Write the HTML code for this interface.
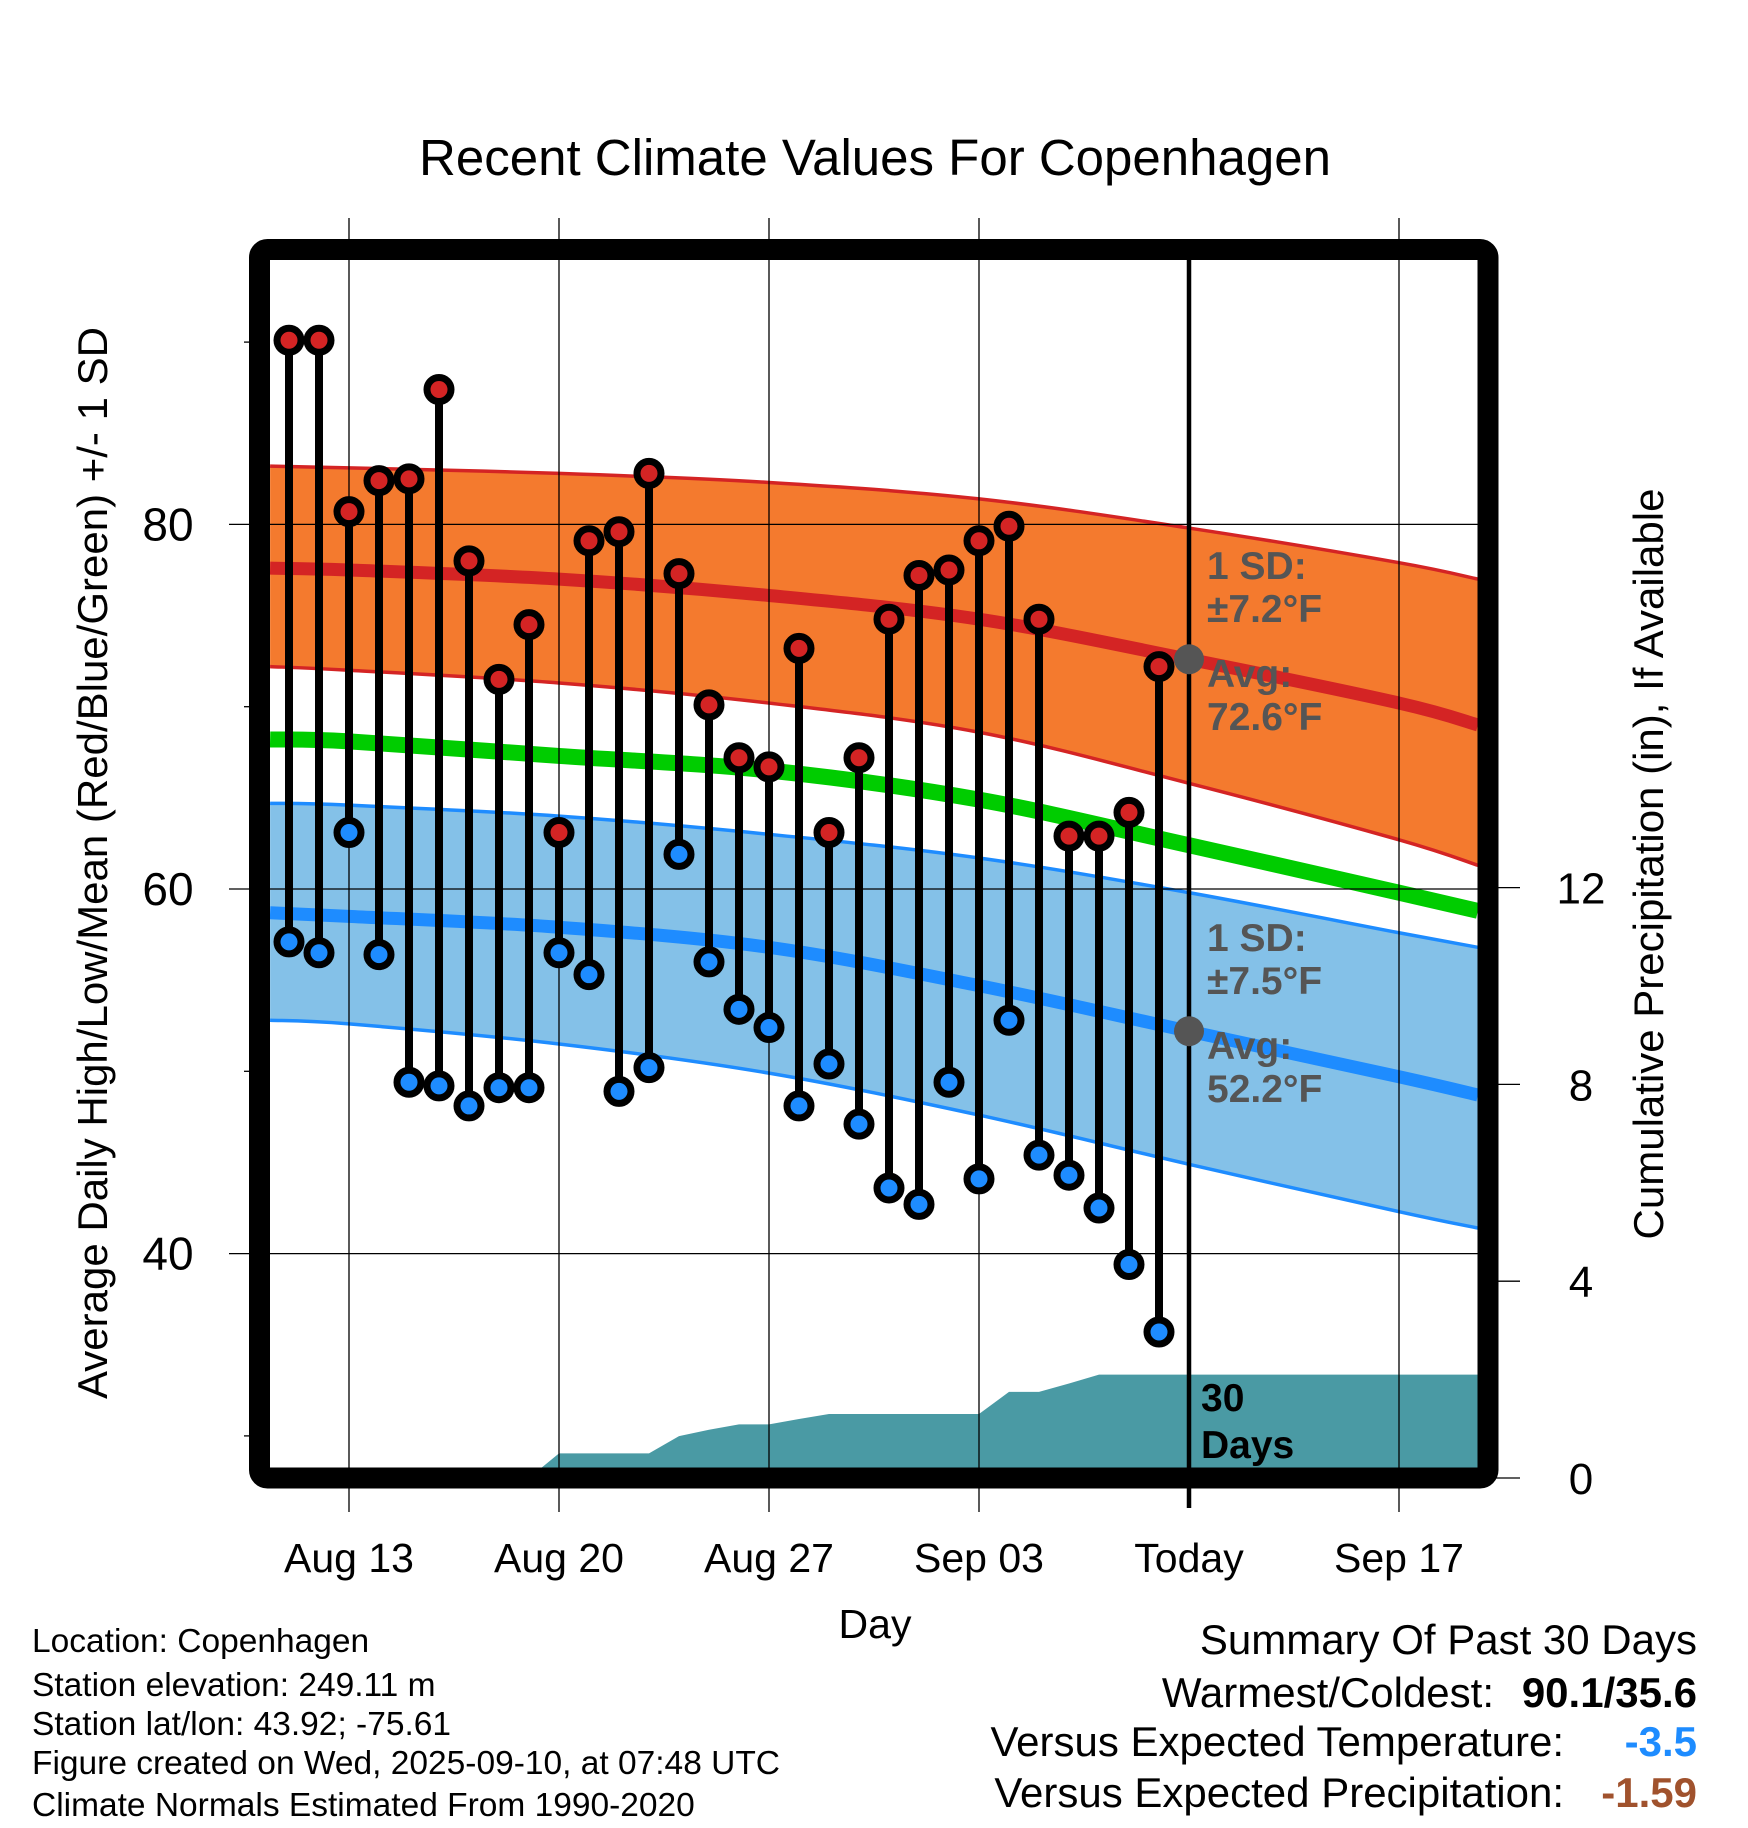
<!DOCTYPE html>
<html><head><meta charset="utf-8"><style>
html,body{margin:0;padding:0;background:#fff;}
svg{display:block;font-family:"Liberation Sans",Arial,sans-serif;}
</style></head><body>
<svg id="chart" width="1748" height="1828" viewBox="0 0 1748 1828">
</svg>
<script>
// ---- data ----
const days = ["Aug 11","Aug 12","Aug 13","Aug 14","Aug 15","Aug 16","Aug 17","Aug 18","Aug 19","Aug 20","Aug 21","Aug 22","Aug 23","Aug 24","Aug 25","Aug 26","Aug 27","Aug 28","Aug 29","Aug 30","Aug 31","Sep 01","Sep 02","Sep 03","Sep 04","Sep 05","Sep 06","Sep 07","Sep 08","Sep 09"];
const highs = [90.1,90.1,80.7,82.4,82.5,87.4,78.0,71.5,74.5,63.1,79.1,79.6,82.8,77.3,70.1,67.2,66.7,73.2,63.1,67.2,74.8,77.2,77.5,79.1,79.9,74.8,62.9,62.9,64.2,72.2];
const lows = [57.1,56.5,63.1,56.4,49.4,49.2,48.1,49.1,49.1,56.5,55.3,48.9,50.2,61.9,56.0,53.4,52.4,48.1,50.4,47.1,43.6,42.7,49.4,44.1,52.8,45.4,44.3,42.5,39.4,35.7];
const precip = [0,0,0,0,0,0,0,0,0,0.5,0.5,0.5,0.5,0.85,0.98,1.09,1.09,1.2,1.3,1.3,1.3,1.3,1.3,1.3,1.75,1.75,1.92,2.1,2.1,2.1];
// normals at knots (day offset from Aug 13)
const normDays = [-2.63,0,7,14,21,28,35,37.63];
const hiUpper = [83.2,83.1,82.8,82.3,81.4,79.8,77.9,77.0];
const hiMean  = [77.6,77.5,77.0,76.1,74.8,72.6,70.2,69.0];
const hiLower = [72.2,72.0,71.3,70.2,68.6,65.8,62.7,61.3];
const meanLine= [68.2,68.1,67.3,66.5,64.9,62.4,59.8,58.8];
const loUpper = [64.7,64.6,64.0,63.0,61.7,59.8,57.6,56.8];
const loMean  = [58.7,58.5,57.9,56.8,54.7,52.2,49.7,48.7];
const loLower = [52.8,52.6,51.5,49.9,47.6,44.9,42.3,41.4];
const xTickDays = [0,7,14,21,28,35];
const xTickLabels = ["Aug 13","Aug 20","Aug 27","Sep 03","Today","Sep 17"];
const yTicks = [40,60,80];
const yMinor = [30,50,70,90];
const pTicks = [0,4,8,12];

// ---- axes ----
const L=270,R=1478,T=260,B=1468;
const xd = d => 349 + d*30;
const yT = t => 889 - (t-60)*18.23;
const yP = p => 1478 - p*49.2;
const NS="http://www.w3.org/2000/svg";
const svg=document.getElementById('chart');
function mk(tag,attrs,parent){const e=document.createElementNS(NS,tag);for(const k in attrs)e.setAttribute(k,attrs[k]);(parent||svg).appendChild(e);return e;}
function txt(s,attrs,parent){const e=mk('text',attrs,parent);e.textContent=s;return e;}

const clip=mk('clipPath',{id:'plotclip'});mk('rect',{x:L,y:T,width:R-L,height:B-T},clip);
const plot=mk('g',{'clip-path':'url(#plotclip)'});



function smooth(pts,start){
  let d=(start?'M':'L')+pts[0][0]+','+pts[0][1];
  for(let i=0;i<pts.length-1;i++){
    const p0=pts[Math.max(0,i-1)],p1=pts[i],p2=pts[i+1],p3=pts[Math.min(pts.length-1,i+2)];
    const c1=[p1[0]+(p2[0]-p0[0])/6,p1[1]+(p2[1]-p0[1])/6];
    const c2=[p2[0]-(p3[0]-p1[0])/6,p2[1]-(p3[1]-p1[1])/6];
    d+='C'+c1[0]+','+c1[1]+' '+c2[0]+','+c2[1]+' '+p2[0]+','+p2[1];
  }
  return d;
}
function pts(v){return normDays.map((nd,i)=>[xd(nd),yT(v[i])]);}
function bandPath(up,lo){return smooth(pts(up),true)+smooth(pts(lo).reverse(),false)+'Z';}
function linePath(v){return smooth(pts(v),true);}

// precipitation area
let pd='M'+L+','+yP(0);
precip.forEach((p,i)=>{pd+='L'+xd(i-2)+','+yP(p);});
pd+='L'+R+','+yP(precip[precip.length-1])+'L'+R+','+(B+10)+'L'+L+','+(B+10)+'Z';
const pa=mk('path',{d:pd,fill:'#4a9aa4'},plot);



const hb=mk('path',{d:bandPath(hiUpper,hiLower),fill:'#f47a2e'},plot);


mk('path',{d:linePath(hiUpper),fill:'none',stroke:'#d42424','stroke-width':3.5},plot);
mk('path',{d:linePath(hiLower),fill:'none',stroke:'#d42424','stroke-width':3.5},plot);
const lb=mk('path',{d:bandPath(loUpper,loLower),fill:'#84c1e8'},plot);


mk('path',{d:linePath(loUpper),fill:'none',stroke:'#1e8cff','stroke-width':3.5},plot);
mk('path',{d:linePath(loLower),fill:'none',stroke:'#1e8cff','stroke-width':3.5},plot);
const hm=mk('path',{d:linePath(hiMean),fill:'none',stroke:'#d42424','stroke-width':13},plot);


const gm=mk('path',{d:linePath(meanLine),fill:'none',stroke:'#00cc00','stroke-width':16},plot);


const lm=mk('path',{d:linePath(loMean),fill:'none',stroke:'#1e8cff','stroke-width':13},plot);



xTickDays.forEach((d,i)=>{
  const g=mk('line',{x1:xd(d),x2:xd(d),y1:218,y2:1512,stroke:'#000','stroke-width':i==4?0:1.3});
  
  
});
yTicks.forEach(t=>{
  const g=mk('line',{x1:229,x2:R,y1:yT(t),y2:yT(t),stroke:'#000','stroke-width':1.3});
  
  
});
yMinor.forEach(t=>{mk('line',{x1:244,x2:255,y1:yT(t),y2:yT(t),stroke:'#000','stroke-width':1.3});});
pTicks.forEach(p=>{
  const g=mk('line',{x1:R,x2:1520,y1:yP(p),y2:yP(p),stroke:'#000','stroke-width':1.3});
  
  
});

const tl=mk('line',{x1:xd(28),x2:xd(28),y1:T-10,y2:B+40,stroke:'#000','stroke-width':4.5});



highs.forEach((h,i)=>{
  const x=xd(i-2);
  const s=mk('line',{x1:x,x2:x,y1:yT(h),y2:yT(lows[i]),stroke:'#000','stroke-width':8});
  
  
});
highs.forEach((h,i)=>{
  const x=xd(i-2);
  const a=mk('circle',{cx:x,cy:yT(h),r:12,fill:'#d42424',stroke:'#000','stroke-width':7});
  
  
  const b=mk('circle',{cx:x,cy:yT(lows[i]),r:12,fill:'#1e8cff',stroke:'#000','stroke-width':7});
  
  
});
[hiMean[5],loMean[5]].forEach(v=>{
  const c=mk('circle',{cx:xd(28),cy:yT(v),r:15,fill:'#555'});
  
  
});

const fr=mk('rect',{x:259.5,y:249.5,width:1228.5,height:1228.5,rx:8,fill:'none',stroke:'#000','stroke-width':21});



xTickDays.forEach((d,i)=>{
  const t=txt(xTickLabels[i],{x:xd(d),y:1572,'font-size':41,'text-anchor':'middle'});
  
  
});
yTicks.forEach(v=>{
  const t=txt(String(v),{x:168,y:yT(v)+16,'font-size':46,'text-anchor':'middle'});
  
  
});
pTicks.forEach(p=>{
  const t=txt(String(p),{x:1581,y:yP(p)+16,'font-size':44,'text-anchor':'middle'});
  
  
});
</script>
<script>
const S=document.getElementById('chart');
S.insertAdjacentHTML('beforeend',`
<text x="875" y="175" font-size="51" text-anchor="middle">Recent Climate Values For Copenhagen</text>
<text transform="translate(107,863) rotate(-90)" font-size="42" text-anchor="middle">Average Daily High/Low/Mean (Red/Blue/Green) +/- 1 SD</text>
<text transform="translate(1663,864) rotate(-90)" font-size="42" text-anchor="middle">Cumulative Precipitation (in), If Available</text>
<text x="875" y="1638" font-size="41" text-anchor="middle">Day</text>
<g font-size="39" font-weight="bold" fill="#555">
<text x="1207" y="579">1 SD:</text>
<text x="1207" y="622">±7.2°F</text>
<text x="1207" y="687">Avg:</text>
<text x="1207" y="730">72.6°F</text>
</g>
<g font-size="39" font-weight="bold" fill="#555">
<text x="1207" y="951">1 SD:</text>
<text x="1207" y="994">±7.5°F</text>
<text x="1207" y="1059">Avg:</text>
<text x="1207" y="1102">52.2°F</text>
</g>
<g font-size="39" font-weight="bold" fill="#000">
<text x="1201" y="1411">30</text>
<text x="1201" y="1458">Days</text>
</g>
<g font-size="33.5" fill="#000">
<text x="32" y="1652">Location: Copenhagen</text>
<text x="32" y="1696">Station elevation: 249.11 m</text>
<text x="32" y="1735">Station lat/lon: 43.92; -75.61</text>
<text x="32" y="1774">Figure created on Wed, 2025-09-10, at 07:48 UTC</text>
<text x="32" y="1816">Climate Normals Estimated From 1990-2020</text>
</g>
<g font-size="42" fill="#000" text-anchor="end">
<text x="1697" y="1654">Summary Of Past 30 Days</text>
<text x="1494" y="1707">Warmest/Coldest:</text>
<text x="1697" y="1707" font-weight="bold">90.1/35.6</text>
<text x="1564" y="1756">Versus Expected Temperature:</text>
<text x="1697" y="1756" font-weight="bold" fill="#1e8cff">-3.5</text>
<text x="1564" y="1807">Versus Expected Precipitation:</text>
<text x="1697" y="1807" font-weight="bold" fill="#a0522d">-1.59</text>
</g>`);
</script>
</body></html>
